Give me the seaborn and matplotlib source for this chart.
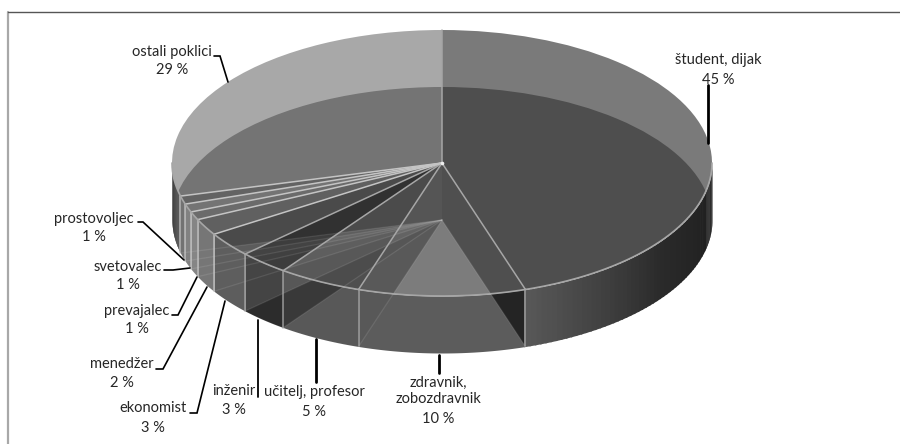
import numpy as np
import seaborn as sns
import matplotlib
matplotlib.use("Agg")
import matplotlib.pyplot as plt
from matplotlib.patches import PathPatch
from matplotlib.path import Path

# Occupations of the respondents, clockwise from twelve o'clock
occupations = ["študent, dijak", "zdravnik,\nzobozdravnik", "učitelj, profesor", "inženir",
               "ekonomist", "menedžer", "prevajalec", "svetovalec", "prostovoljec", "ostali poklici"]
shares = [45, 10, 5, 3, 3, 2, 1, 1, 1, 29]

# Grey shades of the disc, its base seen through the disc, and the rim
top_greys = ["#7a7a7a", "#7c7c7c", "#6e6e6e", "#484848", "#6c6c6c", "#8c8c8c", "#9c9c9c", "#a8a8a8", "#909090", "#a8a8a8"]
base_dim = [0.36, 0.0, 0.28, 0.30, 0.20, 0.14, 0.10, 0.06, 0.14, 0.31]
wall_greys = ["#555555", "#5c5c5c", "#5c5c5c", "#484848", "#626262", "#7a7a7a", "#8a8a8a", "#868686", "#767676", "#444444"]
wall_dim = [0.6, 0.0, 0.04, 0.38, 0.05, 0.03, 0.03, 0.03, 0.03, 0.03]

# Label placement in figure pixels: text centre, then leader polyline
label_xy = [(718, 60), (438, 391), (314, 392), (234, 391), (153, 408),
            (122, 364), (137, 311), (128, 267), (94, 219), (172, 52)]
pct_dy = [20, 28, 20, 19, 20, 19, 18, 18, 18, 18]
leaders = [[(708, 85), (708, 143)], [(439, 355), (439, 373)], [(316, 339), (316, 382)],
           [(258, 320), (258, 397)], [(190, 413), (197, 413), (225, 301)],
           [(156, 369), (163, 369), (207, 287)], [(172, 315), (178, 315), (197, 277)],
           [(164, 270), (173, 270), (190, 268)], [(138, 222), (143, 222), (184, 260)],
           [(214, 56), (220, 56), (228, 82)]]
leader_widths = [2, 2, 2, 1.3, 1.2, 1.2, 1.2, 1.2, 1.2, 1.2]

W, H = 900, 444
CX, CY, RX, RY, DEPTH = 442, 163, 270, 133, 57
PALE = "#a6a6a6"
BRIGHT = "#c4c4c4"

sns.set_theme(style="white")
plt.rcParams["font.family"] = ["Lato", "DejaVu Sans"]

fig = plt.figure(figsize=(W / 100, H / 100), dpi=100, facecolor="white")
ax = fig.add_axes([0, 0, 1, 1])


def px(x, y):
    """Figure pixels to disc units."""
    return (x - CX) / RX, (CY - y) / RY


depth = DEPTH / RY
edges = np.cumsum([0] + shares) * 3.6
pie_args = dict(startangle=90, counterclock=False, radius=1)

# Side wall of every slice except the first; that one goes on after the see-through base
for i in range(1, len(shares)):
    a, b = max(edges[i], 90), min(edges[i + 1], 270)
    t = np.radians(np.linspace(a, b, 40))
    ax.fill_between(np.sin(t), np.cos(t), np.cos(t) - depth, color=wall_greys[i], lw=0, zorder=1)

# Base slices showing through the wall (pie wedges come with clipping off)
t_wall = np.radians(np.linspace(edges[1], 270, 200))
wall_verts = np.r_[np.c_[np.sin(t_wall), np.cos(t_wall)],
                   np.c_[np.sin(t_wall), np.cos(t_wall) - depth][::-1]]
wedges, _ = ax.pie(shares, center=(0, -depth), colors=["black"] * len(shares), **pie_args)
wall_clip = PathPatch(Path(wall_verts), transform=ax.transData, fc="none", ec="none")
ax.add_patch(wall_clip)
for w, d in zip(wedges, wall_dim):
    w.set(alpha=d, linewidth=0, zorder=2)
    w.set_clip_on(True)
    w.set_clip_path(wall_clip)

# Gradient along the wall of the largest slice and at the far left
student_steps = 60
student_ramp = sns.blend_palette(["#1c1c1c", "#2a2a2a", "#575757"], student_steps)
t_grad = np.linspace(90, edges[1], student_steps + 1)
for c, a, b in zip(student_ramp, t_grad[:-1], t_grad[1:]):
    t = np.radians(np.linspace(a, b + 0.4, 5))
    ax.fill_between(np.sin(t), np.cos(t), np.cos(t) - depth, color=c, lw=0, zorder=3)
left_ramp = sns.blend_palette(["#666666", "#383838"], 20)
t_left = np.linspace(edges[-2], 270, 21)
for c, a, b in zip(left_ramp, t_left[:-1], t_left[1:]):
    t = np.radians(np.linspace(a, b + 0.2, 4))
    ax.fill_between(np.sin(t), np.cos(t), np.cos(t) - depth, color=c, lw=0, zorder=3)

# Top face
top_wedges, _ = ax.pie(shares, colors=top_greys, wedgeprops=dict(linewidth=0, zorder=4), **pie_args)

# Base slices showing through the top face
t_top = np.radians(np.linspace(0, 360, 361))
top_clip = PathPatch(Path(np.c_[np.sin(t_top), np.cos(t_top)]), transform=ax.transData, fc="none", ec="none")
ax.add_patch(top_clip)
through, _ = ax.pie(shares, center=(0, -depth), colors=["black"] * len(shares), **pie_args)
for w, d in zip(through, base_dim):
    w.set(alpha=d, linewidth=0, zorder=5)
    w.set_clip_on(True)
    w.set_clip_path(top_clip)

# Faint spokes of the base
for e in edges[1:-1]:
    t = np.radians(e)
    x1, y1 = np.sin(t), np.cos(t) - depth
    ax.plot([0, x1], [-depth, y1], color="#ffffff", alpha=0.10, lw=0.9, zorder=6)

# Spokes, rim and wall seams; the narrow slices carry brighter lines
for e in edges[:-1]:
    t = np.radians(e)
    tone = BRIGHT if e > edges[4] else PALE
    ax.plot([0, np.sin(t)], [0, np.cos(t)], color=tone, lw=1.1, zorder=7, solid_capstyle="round")
    if 90 < e < 270:
        ax.plot([np.sin(t)] * 2, [np.cos(t), np.cos(t) - depth], color=tone, lw=1.2, alpha=0.8, zorder=7)
t = np.radians(np.linspace(90, 270, 200))
ax.plot(np.sin(t), np.cos(t), color=PALE, lw=1.2, zorder=7)
ax.plot(0, 0, "o", color="#eeeeee", ms=1.6, zorder=8)

# Labels and leaders
for name, val, (x, y), dy, line, lw in zip(occupations, shares, label_xy, pct_dy, leaders, leader_widths):
    lx, ly = px(x, y)
    ax.text(lx, ly, name, ha="center", va="center", fontsize=10.5, color="#262626",
            linespacing=1.15, zorder=10)
    lx, ly = px(x, y + dy)
    ax.text(lx, ly, f"{val} %", ha="center", va="center", fontsize=10.5, color="#262626", zorder=10)
    ax.plot(*zip(*[px(*p) for p in line]), color="black", lw=lw, zorder=9, solid_joinstyle="miter")

ax.set_aspect("auto")
x0, y0 = px(0, H)
x1, y1 = px(W, 0)
ax.set_xlim(x0, x1)
ax.set_ylim(y0, y1)
ax.axis("off")

# Chart frame
fig.add_artist(plt.Line2D([7.5 / W, 7.5 / W], [0, 1 - 12 / H], color="#a8a8a8", lw=1.6))
fig.add_artist(plt.Line2D([7.5 / W, 1], [1 - 12.5 / H] * 2, color="#555555", lw=1.0))

fig.savefig("out.png", dpi=100)
